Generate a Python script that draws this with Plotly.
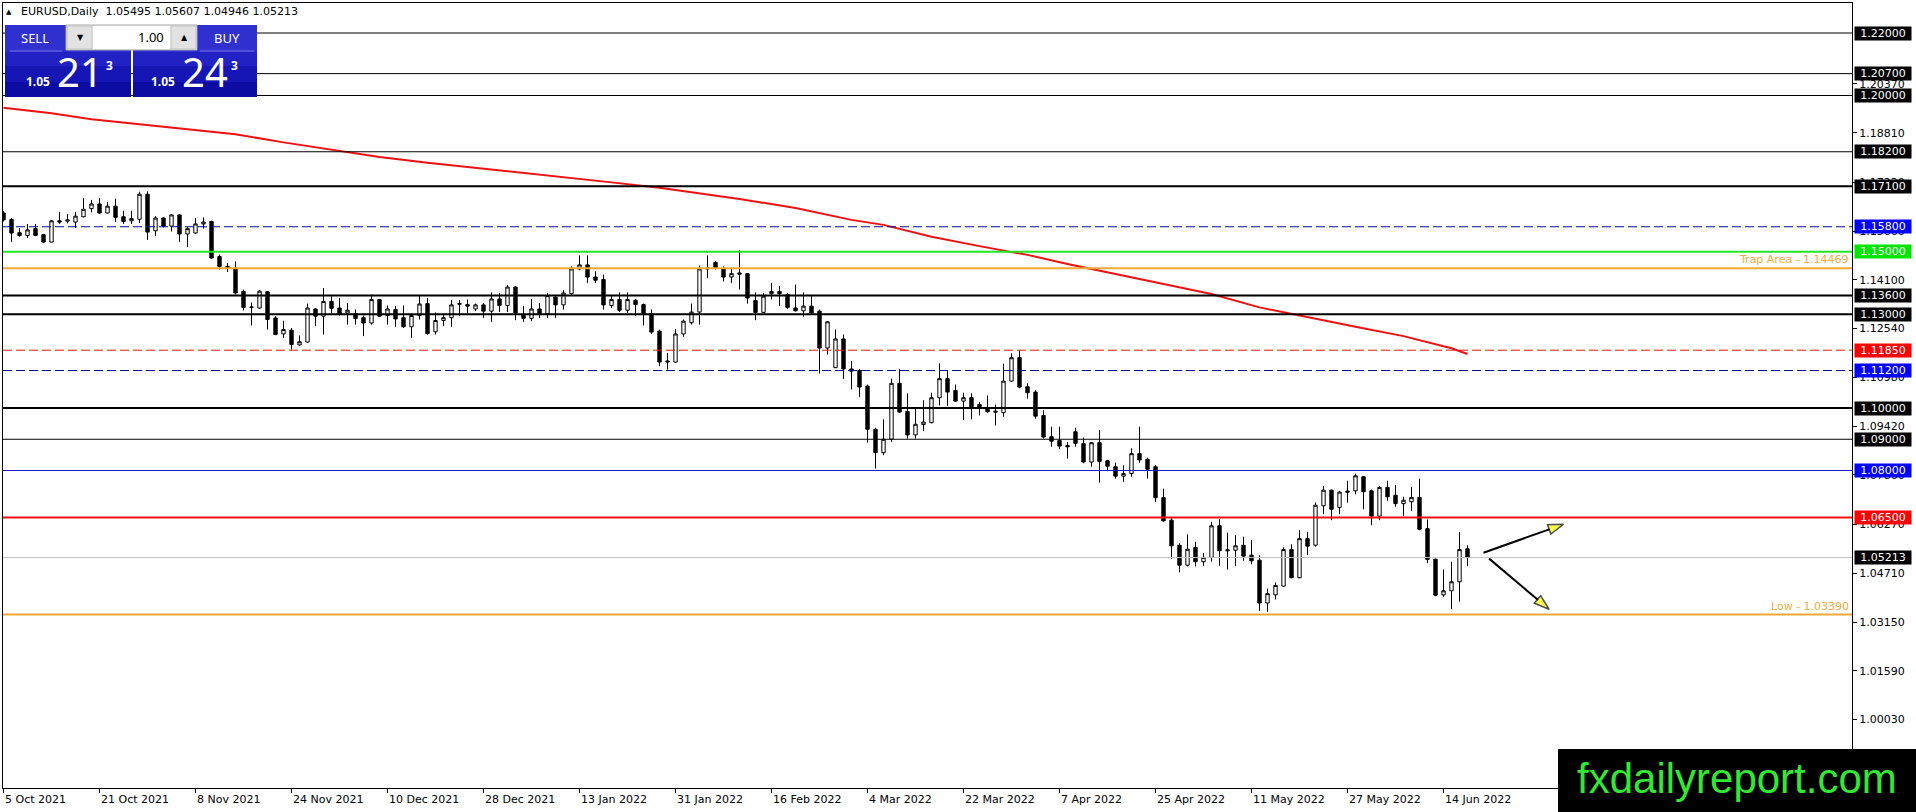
import pandas as pd
import plotly.graph_objects as go

# daily bars, weekdays only (MT4 style, no gaps)
dates = pd.bdate_range("2021-10-05", "2022-06-17")
bars = list(range(len(dates)))

open_ = [1.1624, 1.1603, 1.1561, 1.1552, 1.1574, 1.1555, 1.1531, 1.1599, 1.1598, 1.1595,
         1.1612, 1.1638, 1.1653, 1.1624, 1.1646, 1.1612, 1.1599, 1.1604, 1.1684, 1.1567,
         1.1608, 1.1582, 1.1618, 1.1557, 1.1560, 1.1589, 1.1597, 1.1485, 1.1453, 1.1448,
         1.1373, 1.1322, 1.1320, 1.1372, 1.1288, 1.1237, 1.1249, 1.1202, 1.1211, 1.1317,
         1.1294, 1.1341, 1.1320, 1.1304, 1.1302, 1.1289, 1.1272, 1.1347, 1.1296, 1.1315,
         1.1289, 1.1260, 1.1296, 1.1334, 1.1244, 1.1280, 1.1289, 1.1332, 1.1331, 1.1317,
         1.1330, 1.1310, 1.1349, 1.1328, 1.1387, 1.1299, 1.1287, 1.1317, 1.1302, 1.1355,
         1.1330, 1.1366, 1.1445, 1.1458, 1.1419, 1.1411, 1.1328, 1.1347, 1.1313, 1.1345,
         1.1331, 1.1302, 1.1246, 1.1147, 1.1147, 1.1237, 1.1273, 1.1307, 1.1445, 1.1466,
         1.1445, 1.1419, 1.1428, 1.1430, 1.1344, 1.1306, 1.1366, 1.1373, 1.1363, 1.1320,
         1.1311, 1.1326, 1.1310, 1.1192, 1.1129, 1.1221, 1.1125, 1.1120, 1.1070, 1.0932,
         1.0857, 1.0900, 1.1079, 1.0989, 1.0914, 1.0947, 1.0953, 1.1033, 1.1094, 1.1056,
         1.1022, 1.1033, 1.1011, 1.1001, 1.0990, 1.0985, 1.1086, 1.1161, 1.1068, 1.1051,
         1.0976, 1.0908, 1.0896, 1.0880, 1.0924, 1.0886, 1.0827, 1.0889, 1.0831, 1.0812,
         1.0782, 1.0790, 1.0854, 1.0836, 1.0812, 1.0713, 1.0641, 1.0561, 1.0497, 1.0554,
         1.0508, 1.0522, 1.0623, 1.0543, 1.0545, 1.0561, 1.0529, 1.0513, 1.0376, 1.0402,
         1.0430, 1.0547, 1.0457, 1.0582, 1.0561, 1.0687, 1.0737, 1.0682, 1.0730, 1.0735,
         1.0780, 1.0735, 1.0654, 1.0746, 1.0721, 1.0694, 1.0700, 1.0714, 1.0614, 1.0516,
         1.0402, 1.0415, 1.0444, 1.05495]
high = [1.1630, 1.1608, 1.1576, 1.1589, 1.1589, 1.1557, 1.1601, 1.1627, 1.1621, 1.1627,
        1.1672, 1.1666, 1.1672, 1.1659, 1.1670, 1.1631, 1.1631, 1.1692, 1.1693, 1.1614,
        1.1610, 1.1621, 1.1621, 1.1581, 1.1608, 1.1610, 1.1599, 1.1491, 1.1464, 1.1469,
        1.1379, 1.1338, 1.1377, 1.1374, 1.1294, 1.1279, 1.1256, 1.1232, 1.1334, 1.1320,
        1.1384, 1.1358, 1.1352, 1.1336, 1.1315, 1.1296, 1.1363, 1.1349, 1.1328, 1.1326,
        1.1328, 1.1298, 1.1362, 1.1352, 1.1306, 1.1299, 1.1345, 1.1345, 1.1347, 1.1334,
        1.1336, 1.1370, 1.1368, 1.1394, 1.1390, 1.1326, 1.1349, 1.1336, 1.1368, 1.1362,
        1.1377, 1.1453, 1.1488, 1.1488, 1.1437, 1.1427, 1.1360, 1.1370, 1.1370, 1.1349,
        1.1334, 1.1315, 1.1251, 1.1176, 1.1253, 1.1283, 1.1334, 1.1456, 1.1488, 1.1470,
        1.1453, 1.1448, 1.1505, 1.1432, 1.1370, 1.1368, 1.1400, 1.1390, 1.1368, 1.1395,
        1.1370, 1.1360, 1.1315, 1.1278, 1.1251, 1.1235, 1.1150, 1.1125, 1.1075, 1.0937,
        1.0964, 1.1094, 1.1125, 1.1047, 1.1001, 1.1025, 1.1049, 1.1143, 1.1121, 1.1075,
        1.1049, 1.1047, 1.1019, 1.1040, 1.1011, 1.1142, 1.1175, 1.1185, 1.1079, 1.1057,
        1.0993, 1.0940, 1.0940, 1.0891, 1.0937, 1.0905, 1.0891, 1.0929, 1.0834, 1.0825,
        1.0817, 1.0871, 1.0940, 1.0841, 1.0817, 1.0742, 1.0649, 1.0567, 1.0596, 1.0572,
        1.0536, 1.0636, 1.0644, 1.0601, 1.0593, 1.0588, 1.0577, 1.0529, 1.0422, 1.0442,
        1.0554, 1.0564, 1.0609, 1.0603, 1.0698, 1.0750, 1.0739, 1.0735, 1.0767, 1.0790,
        1.0782, 1.0739, 1.0750, 1.0767, 1.0753, 1.0716, 1.0748, 1.0774, 1.0643, 1.0518,
        1.0483, 1.0508, 1.0604, 1.05607]
low = [1.1597, 1.1531, 1.1548, 1.1544, 1.1550, 1.1527, 1.1531, 1.1589, 1.1591, 1.1576,
       1.1610, 1.1626, 1.1622, 1.1623, 1.1595, 1.1589, 1.1589, 1.1592, 1.1538, 1.1550,
       1.1578, 1.1565, 1.1531, 1.1515, 1.1556, 1.1574, 1.1478, 1.1443, 1.1435, 1.1363,
       1.1312, 1.1264, 1.1317, 1.1251, 1.1233, 1.1224, 1.1187, 1.1198, 1.1209, 1.1262,
       1.1235, 1.1302, 1.1296, 1.1267, 1.1267, 1.1230, 1.1267, 1.1292, 1.1267, 1.1260,
       1.1256, 1.1224, 1.1283, 1.1235, 1.1235, 1.1262, 1.1260, 1.1294, 1.1302, 1.1310,
       1.1288, 1.1275, 1.1307, 1.1307, 1.1281, 1.1275, 1.1278, 1.1287, 1.1288, 1.1288,
       1.1315, 1.1358, 1.1441, 1.1400, 1.1400, 1.1315, 1.1320, 1.1307, 1.1304, 1.1294,
       1.1264, 1.1237, 1.1134, 1.1123, 1.1145, 1.1228, 1.1267, 1.1267, 1.1416, 1.1443,
       1.1405, 1.1400, 1.1379, 1.1334, 1.1281, 1.1304, 1.1347, 1.1326, 1.1317, 1.1309,
       1.1292, 1.1302, 1.1110, 1.1171, 1.1128, 1.1093, 1.1059, 1.1035, 1.0889, 1.0806,
       1.0849, 1.0891, 1.0985, 1.0902, 1.0902, 1.0926, 1.0951, 1.1008, 1.1006, 1.1019,
       1.0961, 1.0964, 1.0976, 1.0985, 1.0944, 1.0972, 1.1083, 1.1063, 1.1030, 1.0966,
       1.0902, 1.0876, 1.0868, 1.0838, 1.0876, 1.0823, 1.0812, 1.0761, 1.0798, 1.0774,
       1.0763, 1.0780, 1.0825, 1.0774, 1.0699, 1.0636, 1.0518, 1.0474, 1.0493, 1.0493,
       1.0495, 1.0508, 1.0495, 1.0483, 1.0494, 1.0511, 1.0500, 1.0351, 1.0348, 1.0387,
       1.0428, 1.0455, 1.0455, 1.0529, 1.0556, 1.0660, 1.0641, 1.0660, 1.0697, 1.0724,
       1.0676, 1.0625, 1.0641, 1.0703, 1.0684, 1.0654, 1.0671, 1.0609, 1.0504, 1.0398,
       1.0396, 1.0356, 1.0380, 1.04946]
close = [1.1602, 1.1560, 1.1552, 1.1570, 1.1552, 1.1531, 1.1599, 1.1595, 1.1602, 1.1614,
         1.1636, 1.1653, 1.1624, 1.1646, 1.1610, 1.1597, 1.1606, 1.1684, 1.1563, 1.1608,
         1.1582, 1.1618, 1.1557, 1.1574, 1.1589, 1.1595, 1.1480, 1.1453, 1.1448, 1.1368,
         1.1322, 1.1323, 1.1374, 1.1283, 1.1235, 1.1251, 1.1203, 1.1212, 1.1320, 1.1294,
         1.1341, 1.1319, 1.1302, 1.1313, 1.1286, 1.1272, 1.1347, 1.1294, 1.1317, 1.1285,
         1.1260, 1.1296, 1.1333, 1.1238, 1.1280, 1.1289, 1.1330, 1.1334, 1.1326, 1.1330,
         1.1310, 1.1349, 1.1328, 1.1387, 1.1304, 1.1287, 1.1317, 1.1302, 1.1360, 1.1330,
         1.1368, 1.1445, 1.1458, 1.1419, 1.1409, 1.1330, 1.1347, 1.1313, 1.1347, 1.1331,
         1.1302, 1.1243, 1.1147, 1.1150, 1.1237, 1.1278, 1.1307, 1.1445, 1.1447, 1.1449,
         1.1419, 1.1430, 1.1432, 1.1352, 1.1306, 1.1358, 1.1373, 1.1366, 1.1322, 1.1311,
         1.1326, 1.1304, 1.1192, 1.1276, 1.1221, 1.1125, 1.1118, 1.1067, 1.0932, 1.0857,
         1.0900, 1.1079, 1.0987, 1.0914, 1.0948, 1.0955, 1.1033, 1.1094, 1.1051, 1.1022,
         1.1033, 1.1004, 1.1001, 1.0988, 1.0987, 1.1086, 1.1161, 1.1067, 1.1049, 1.0974,
         1.0907, 1.0894, 1.0878, 1.0876, 1.0887, 1.0827, 1.0889, 1.0829, 1.0814, 1.0782,
         1.0790, 1.0854, 1.0834, 1.0804, 1.0713, 1.0639, 1.0559, 1.0497, 1.0548, 1.0508,
         1.0522, 1.0623, 1.0543, 1.0546, 1.0559, 1.0526, 1.0511, 1.0376, 1.0406, 1.0432,
         1.0547, 1.0457, 1.0582, 1.0558, 1.0689, 1.0737, 1.0676, 1.0731, 1.0734, 1.0783,
         1.0732, 1.0654, 1.0746, 1.0716, 1.0694, 1.0705, 1.0714, 1.0612, 1.0515, 1.0401,
         1.0415, 1.0444, 1.0547, 1.05213]

# moving average (red), read at a few bars
ma_bar = [0, 6, 11, 17, 23, 29, 35, 41, 47, 53, 59, 65, 70, 76, 82, 88, 92, 99, 106,
          110, 116, 122, 128, 133, 139, 145, 151, 157, 163, 169, 175, 181, 183]
ma_value = [1.1961, 1.1943, 1.1924, 1.1908, 1.1893, 1.1876, 1.1850, 1.1826, 1.1803,
            1.1785, 1.1769, 1.1753, 1.1740, 1.1722, 1.1705, 1.1684, 1.1669, 1.1640,
            1.1602, 1.1586, 1.1548, 1.1518, 1.1490, 1.1461, 1.1429, 1.1399, 1.1365,
            1.1322, 1.1290, 1.1260, 1.1230, 1.1191, 1.1173]

# horizontal levels
level_values = [1.22000, 1.20700, 1.20000, 1.18200, 1.17100, 1.15800, 1.15000, 1.14469,
                1.13600, 1.13000, 1.11850, 1.11200, 1.10000, 1.09000, 1.08000, 1.06500,
                1.05213, 1.03390]
level_kind = ["thin", "thin", "thin", "thin", "thick", "blue_dash", "green", "trap",
              "thick", "thick", "red_dash", "blue_dash", "thick", "thin", "blue", "red",
              "bid", "low"]

# price scale labels
price_ticks = [1.00030, 1.01590, 1.03150, 1.04710, 1.06270, 1.07860, 1.09420, 1.10980,
               1.12540, 1.14100, 1.15660, 1.17230, 1.18810, 1.20370]
date_tick_bars = list(range(0, len(dates), 12))

# the two scenario arrows
arrow_start_bar = [185.0, 185.7]
arrow_start_price = [1.0537, 1.0518]
arrow_end_bar = [195.0, 193.2]
arrow_end_price = [1.0628, 1.0356]

# style per level kind: line colour, width, dash, label background
styles = {
    "thin": ("#000000", 1, "solid", "#000000"),
    "thick": ("#000000", 2, "solid", "#000000"),
    "blue_dash": ("#0a0a90", 1, "9px,4px", "#0000ff"),
    "green": ("#22e622", 2, "solid", "#00e600"),
    "trap": ("#f2a835", 2, "solid", None),
    "red_dash": ("#e01818", 1, "9px,4px", "#ff0000"),
    "blue": ("#1a1ac0", 1, "solid", "#0000ff"),
    "red": ("#f01010", 2, "solid", "#ff0000"),
    "bid": ("#c0c0c0", 1, "solid", "#000000"),
    "low": ("#f2a835", 2, "solid", None),
}

W, H = 1916, 812
ML, MR, MT, MB = 3, 64, 3, 24
PW, PH = W - ML - MR, H - MT - MB


def pxx(px):
    return (px - ML) / PW


def pxy(py):
    return (H - MB - py) / PH


FONT = "DejaVu Sans"
fig = go.Figure()

fig.add_trace(go.Candlestick(
    x=bars, open=open_, high=high, low=low, close=close,
    increasing=dict(line=dict(color="black", width=1), fillcolor="white"),
    decreasing=dict(line=dict(color="black", width=1), fillcolor="black"),
    whiskerwidth=0, showlegend=False, hoverinfo="skip",
))

fig.add_trace(go.Scatter(
    x=ma_bar, y=ma_value, mode="lines",
    line=dict(color="#ee1111", width=2), showlegend=False, hoverinfo="skip",
))

for i in range(len(arrow_start_bar)):
    fig.add_trace(go.Scatter(
        x=[arrow_start_bar[i], arrow_end_bar[i]],
        y=[arrow_start_price[i], arrow_end_price[i]],
        mode="lines+markers",
        line=dict(color="black", width=2),
        marker=dict(symbol="arrow", size=[0, 16], angleref="previous",
                    color="#ffff00", line=dict(color="black", width=1.5)),
        showlegend=False, hoverinfo="skip",
    ))

shapes = []
annotations = []

for val, kind in zip(level_values, level_kind):
    color, width, dash, label_bg = styles[kind]
    shapes.append(dict(type="line", xref="paper", x0=0, x1=1, yref="y", y0=val, y1=val,
                       line=dict(color=color, width=width, dash=dash), layer="above"))
    if label_bg:
        annotations.append(dict(
            xref="paper", x=1, xanchor="left", xshift=2, yref="y", y=val, yanchor="middle",
            text=f"{val:.5f}", showarrow=False, bgcolor=label_bg, borderpad=0,
            width=56, height=13, font=dict(family=FONT, size=11, color="white"),
        ))

annotations.append(dict(xref="paper", x=1, xanchor="right", xshift=-1, yref="y",
                        y=level_values[level_kind.index("trap")], yanchor="bottom",
                        text=f"Trap Area - {level_values[level_kind.index('trap')]:.5f}",
                        showarrow=False, font=dict(family=FONT, size=11, color="#f5ad3c")))
annotations.append(dict(xref="paper", x=1, xanchor="right", xshift=-1, yref="y",
                        y=level_values[level_kind.index("low")], yanchor="bottom",
                        text=f"Low - {level_values[level_kind.index('low')]:.5f}",
                        showarrow=False, font=dict(family=FONT, size=11, color="#f5ad3c")))

# date labels start right of their tick, as in MT4
for b in date_tick_bars:
    d = dates[b]
    annotations.append(dict(xref="x", x=b, xanchor="left", xshift=-1, yref="paper", y=0,
                            yanchor="top", yshift=-3, text=f"{d.day} {d:%b %Y}",
                            showarrow=False, font=dict(family=FONT, size=11, color="black")))

# header
annotations.append(dict(xref="paper", x=pxx(4), xanchor="left", yref="paper", y=pxy(12),
                        yanchor="middle", text="▲", showarrow=False,
                        font=dict(family=FONT, size=7, color="black")))
annotations.append(dict(xref="paper", x=pxx(19), xanchor="left", yref="paper", y=pxy(12),
                        yanchor="middle",
                        text=f"EURUSD,Daily  {open_[-1]:.5f} {high[-1]:.5f} {low[-1]:.5f} {close[-1]:.5f}",
                        showarrow=False, font=dict(family=FONT, size=11, color="black")))


def rect(x0, y0, x1, y1, fill, line=None):
    shapes.append(dict(type="rect", xref="paper", yref="paper",
                       x0=pxx(x0), x1=pxx(x1), y0=pxy(y0), y1=pxy(y1),
                       fillcolor=fill, line=dict(width=1 if line else 0, color=line or fill),
                       layer="above"))


def label(px, py, text, size, color="white", family="Noto Sans", anchor="center"):
    annotations.append(dict(xref="paper", x=pxx(px), xanchor=anchor, yref="paper",
                            y=pxy(py), yanchor="middle", text=text, showarrow=False,
                            font=dict(family=family, size=size, color=color)))


# one-click trading panel
for x0, x1 in [(5, 131), (133, 257)]:
    rect(x0, 25, x1, 52, "#3030cf")
    rect(x0, 52, x1, 66, "#2222c4")
    rect(x0, 66, x1, 82, "#1616b4")
    rect(x0, 82, x1, 97, "#0c0ca2")
rect(66, 25, 197, 50, "#f0f0f0", "#a8a8a8")
rect(67, 26, 92, 49, "#e2e2e2", "#c4c4c4")
rect(171, 26, 196, 49, "#e2e2e2", "#c4c4c4")
rect(93, 26, 170, 49, "#ffffff")
shapes.append(dict(type="line", xref="paper", yref="paper", x0=pxx(10), x1=pxx(62),
                   y0=pxy(51), y1=pxy(51), line=dict(color="#7070e6", width=1), layer="above"))
shapes.append(dict(type="line", xref="paper", yref="paper", x0=pxx(200), x1=pxx(254),
                   y0=pxy(51), y1=pxy(51), line=dict(color="#7070e6", width=1), layer="above"))
label(35, 38, "SELL", 13)
label(227, 38, "BUY", 13)
label(80, 38, "▼", 8, "black", FONT)
label(184, 38, "▲", 8, "black", FONT)
label(166, 37, "1.00", 13, "black", anchor="right")
label(38, 82, "<b>1.05</b>", 12)
label(80, 72, "21", 40)
label(109, 66, "<b>3</b>", 12)
label(163, 82, "<b>1.05</b>", 12)
label(205, 72, "24", 40)
label(234, 66, "<b>3</b>", 12)

# watermark
rect(1558, 749, 1916, 812, "#000000")
label(1737, 778, "fxdailyreport.com", 42, "#33e833", "Liberation Sans")

fig.update_layout(
    width=W, height=H,
    margin=dict(l=ML, r=MR, t=MT, b=MB),
    paper_bgcolor="white", plot_bgcolor="white",
    boxgap=0.4,
    shapes=shapes, annotations=annotations,
    xaxis=dict(range=[-0.0625, (PW - 0.5) / 8], tickvals=date_tick_bars, showticklabels=False,
               ticks="outside", ticklen=4, tickcolor="black", showgrid=False, zeroline=False,
               showline=True, mirror=True, linecolor="black", linewidth=1,
               rangeslider=dict(visible=False)),
    yaxis=dict(range=[1.22 - 755 / 3125, 1.22 + 30 / 3125], side="right",
               tickvals=price_ticks, ticktext=[f"{t:.5f}" for t in price_ticks],
               ticks="outside", ticklen=4, tickcolor="black",
               tickfont=dict(family=FONT, size=11, color="black"),
               showgrid=False, zeroline=False, showline=True, mirror=True,
               linecolor="black", linewidth=1),
    font=dict(family=FONT),
)

# drop the default page margin so the figure sits at the window's top-left corner
fig.write_html("out.html", config={"displayModeBar": False},
               post_script="document.body.style.margin='0';document.body.style.overflow='hidden';")
